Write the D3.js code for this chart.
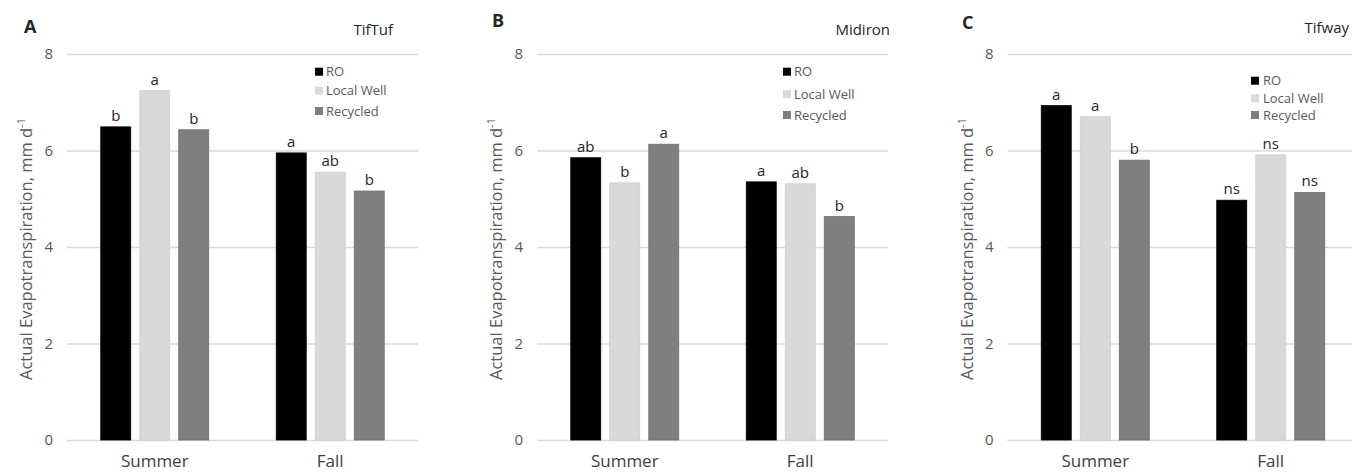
<!DOCTYPE html>
<html>
<head>
<meta charset="utf-8">
<script src="https://cdn.jsdelivr.net/npm/d3@7"></script>
<style>
  html, body { margin: 0; padding: 0; background: #fff; }
  svg { display: block; font-family: "Open Sans", "Noto Sans", sans-serif; }
</style>
</head>
<body>
<svg id="chart" width="1352" height="473"></svg>
<script>
// ---- data ----
const seasons = ["Summer", "Fall"];
const treatments = ["RO", "Local Well", "Recycled"];
const panelLetters = ["A", "B", "C"];
const cultivars = ["TifTuf", "Midiron", "Tifway"];
const yTicks = [0, 2, 4, 6, 8];

// values[season][treatment]
const tiftufValues  = [[6.49, 7.24, 6.43], [5.95, 5.55, 5.16]];
const midironValues = [[5.85, 5.33, 6.13], [5.35, 5.31, 4.63]];
const tifwayValues  = [[6.93, 6.70, 5.80], [4.97, 5.91, 5.13]];

const tiftufLetters  = [["b", "a", "b"], ["a", "ab", "b"]];
const midironLetters = [["ab", "b", "a"], ["a", "ab", "b"]];
const tifwayLetters  = [["a", "a", "b"], ["ns", "ns", "ns"]];

const panelValues = [tiftufValues, midironValues, tifwayValues];
const panelSig = [tiftufLetters, midironLetters, tifwayLetters];

// ---- layout / style ----
const colors = { "RO": "#000000", "Local Well": "#d9d9d9", "Recycled": "#7f7f7f" };
const plotW = 351;
const plotTop = 54, plotBottom = 440;
const panelLeft = [67, 537, 1007.5];
const titleRight = [393, 890, 1349];
const titleY = [35, 35, 33];
const letterPos = [[24, 33], [492, 27], [962, 29]];
const legendPos = [
  { sx: 315, tx: 326, ys: [71.7, 90.7, 111] },
  { sx: 783, tx: 794, ys: [71.7, 94, 115] },
  { sx: 1251, tx: 1263, ys: [80.7, 98.3, 115] }
];

const svg = d3.select("#chart");

const y = d3.scaleLinear().domain([0, 8]).range([plotBottom, plotTop]);
const x0 = d3.scaleBand().domain(seasons).range([0, plotW])
  .paddingInner(0.3846).paddingOuter(0.1923);
const x1 = d3.scaleBand().domain(treatments).range([0, x0.bandwidth()])
  .paddingInner(0.231).paddingOuter(0);

panelLetters.forEach((letter, p) => {
  const g = svg.append("g").attr("transform", `translate(${panelLeft[p]},0)`);

  // gridlines + y tick labels via axis
  const yAxis = d3.axisLeft(y).tickValues(yTicks).tickSize(-plotW).tickPadding(14).tickFormat(d3.format("d"));
  const ya = g.append("g").call(yAxis);
  ya.select(".domain").remove();
  ya.selectAll(".tick line").attr("stroke", "#d9d9d9").attr("stroke-width", 1.3);
  ya.selectAll(".tick text").attr("fill", "#595959").attr("font-size", 15).attr("font-family", "Open Sans, sans-serif");

  // bars
  const vals = panelValues[p];
  const sig = panelSig[p];
  seasons.forEach((s, si) => {
    const sg = g.append("g").attr("transform", `translate(${x0(s)},0)`);
    sg.selectAll("rect").data(treatments).join("rect")
      .attr("x", t => x1(t))
      .attr("width", x1.bandwidth())
      .attr("y", (t, ti) => y(vals[si][ti]))
      .attr("height", (t, ti) => y(0) - y(vals[si][ti]))
      .attr("fill", t => colors[t])
      .attr("stroke", t => t === "Local Well" ? "#cfcfcf" : (t === "Recycled" ? "#6f6f6f" : "#000"))
      .attr("stroke-width", 0.8);
    sg.selectAll("text.sig").data(treatments).join("text")
      .attr("class", "sig")
      .attr("x", t => x1(t) + x1.bandwidth() / 2)
      .attr("y", (t, ti) => y(vals[si][ti]) - 6)
      .attr("text-anchor", "middle")
      .attr("font-size", 15)
      .attr("fill", "#262626")
      .text((t, ti) => sig[si][ti]);
  });

  // x category labels
  g.selectAll("text.cat").data(seasons).join("text")
    .attr("class", "cat")
    .attr("x", s => x0(s) + x0.bandwidth() / 2)
    .attr("y", 467)
    .attr("text-anchor", "middle")
    .attr("font-size", 17)
    .attr("fill", "#404040")
    .text(s => s);

  // y axis title
  const ty = svg.append("text")
    .attr("transform", `translate(${panelLeft[p] - 35},249) rotate(-90)`)
    .attr("text-anchor", "middle")
    .attr("font-size", 16.5)
    .attr("fill", "#595959");
  ty.append("tspan").text("Actual Evapotranspiration, mm d");
  ty.append("tspan").attr("dy", -7).attr("font-size", 11).text("-1");

  // cultivar title
  svg.append("text")
    .attr("x", titleRight[p]).attr("y", titleY[p])
    .attr("text-anchor", "end")
    .attr("font-size", 15)
    .attr("fill", "#262626")
    .text(cultivars[p]);

  // panel letter
  svg.append("text")
    .attr("x", letterPos[p][0]).attr("y", letterPos[p][1])
    .attr("font-size", 18)
    .attr("font-weight", "bold")
    .attr("fill", "#262626")
    .text(letter);

  // legend
  const lp = legendPos[p];
  treatments.forEach((t, ti) => {
    svg.append("rect")
      .attr("x", lp.sx).attr("y", lp.ys[ti] - 4)
      .attr("width", 8).attr("height", 8)
      .attr("fill", colors[t]);
    svg.append("text")
      .attr("x", lp.tx).attr("y", lp.ys[ti] + 4.5)
      .attr("font-size", 13)
      .attr("fill", "#595959")
      .text(t);
  });
});
</script>
</body>
</html>
